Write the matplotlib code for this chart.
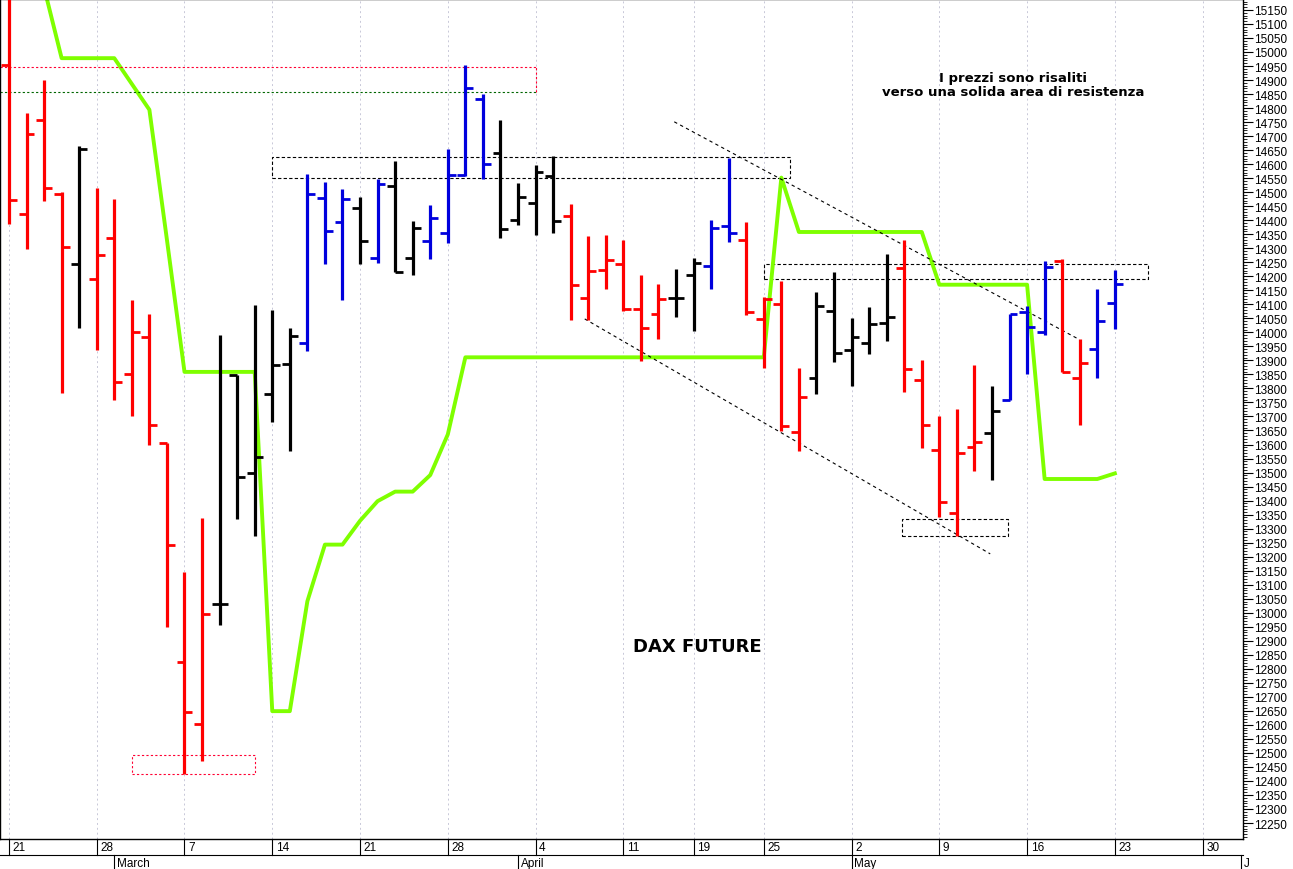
import numpy as np
import matplotlib.pyplot as plt
from matplotlib.transforms import blended_transform_factory

# Daily bars: trading-day index from 21 Feb (Easter holidays skipped)
highs = [15250, 14784, 14899, 14501, 14665, 14516, 14477, 14117, 14065, 13606,
         13146, 13338, 13992, 13847, 14097, 14081, 14014, 14564, 14536, 14512,
         14483, 14546, 14611, 14398, 14453, 14655, 14952, 14849, 14758, 14532,
         14596, 14629, 14457, 14342, 14348, 14328, 14204, 14174, 14225, 14265,
         14402, 14621, 14394, 14126, 14184, 13873, 14144, 14214, 14051, 14091,
         14279, 14328, 13903, 13701, 13728, 13883, 13810, 14065, 14095, 14255,
         14263, 13978, 14156, 14223]
lows = [14388, 14299, 14467, 13784, 14017, 13938, 13760, 13701, 13600, 12948,
        12424, 12471, 12956, 13333, 13274, 13681, 13576, 13932, 14243, 14117,
        14243, 14249, 14214, 14204, 14263, 14318, 14556, 14546, 14338, 14382,
        14348, 14354, 14045, 14045, 14156, 14077, 13899, 13978, 14055, 14006,
        14156, 14322, 14061, 13873, 13649, 13576, 13780, 13893, 13810, 13923,
        13968, 13788, 13586, 13342, 13275, 13507, 13473, 13760, 13853, 13992,
        13859, 13671, 13839, 14012]
opens = [14952, 14421, 14758, 14493, 14243, 14190, 14338, 13853, 13982, 13606,
         12824, 12602, 13031, 13847, 13497, 13780, 13887, 13962, 14481, 14394,
         14445, 14267, 14522, 14267, 14326, 14354, 14560, 14833, 14639, 14402,
         14463, 14556, 14414, 14124, 14223, 14243, 14085, 14067, 14124, 14204,
         14235, 14378, 14328, 14047, 14101, 13645, 13837, 14075, 13938, 13962,
         14035, 14229, 13830, 13582, 13354, 13590, 13641, 13760, 14071, 14002,
         14255, 13837, 13942, 14105]
closes = [14473, 14708, 14514, 14305, 14653, 14275, 13823, 14002, 13669, 13240,
          12645, 12996, 13031, 13483, 13554, 13883, 13986, 14493, 14362, 14477,
          14325, 14528, 14214, 14374, 14408, 14560, 14873, 14600, 14368, 14483,
          14572, 14398, 14170, 14219, 14259, 14085, 14016, 14120, 14124, 14249,
          14374, 14354, 14071, 14120, 13665, 13768, 14095, 13927, 13982, 14031,
          14055, 13869, 13671, 13394, 13570, 13610, 13721, 14065, 14018, 14233,
          13859, 13889, 14041, 14174]
colors = (['r'] * 4 + ['k'] + ['r'] * 7 + ['k'] * 5 + ['b'] * 3 + ['k', 'b', 'k', 'k']
          + ['b'] * 4 + ['k'] * 4 + ['r'] * 6 + ['k'] * 2 + ['b'] * 2 + ['r'] * 4
          + ['k'] * 5 + ['r'] * 5 + ['k'] + ['b'] * 3 + ['r'] * 2 + ['b'] * 2)
color_map = {'r': '#ff0000', 'k': '#000000', 'b': '#0000dd'}

# green indicator line
green = [np.nan, 15480, 15230, 14978, 14978, 14978, 14978, 14886, 14794, 14330,
         13859, 13859, 13859, 13859, 13859, 12649, 12649, 13041, 13243, 13243,
         13328, 13398, 13432, 13432, 13491, 13636, 13911] + [13911] * 17 + \
        [14552] + [14358] * 8 + [14170] * 6 + [13477] * 4 + [13497]

day_ticks = [0, 5, 10, 15, 20, 25, 30, 35, 39, 43, 48, 53, 58, 63, 68]
day_labels = ['21', '28', '7', '14', '21', '28', '4', '11', '19', '25', '2', '9', '16', '23', '30']
month_pos = [6, 29, 48, 70.2]
month_labels = ['March', 'April', 'May', 'J']

fig = plt.figure(figsize=(12.93, 8.7), dpi=100)
ax = fig.add_axes([0, 30 / 870, 1243 / 1293, 840 / 870])
ax.set_xlim(-0.51, 70.3)
ax.set_ylim(12193, 15189)

for t in day_ticks:
    ax.axvline(t, color='#c8c8d8', lw=0.7, ls=(0, (2, 3)), zorder=0)

x = np.arange(len(highs))
cols = [color_map[c] for c in colors]
ax.vlines(x, lows, highs, colors=cols, lw=2.3, zorder=3)
ax.hlines(opens, x - 0.45, x, colors=cols, lw=2.0, zorder=3)
ax.hlines(closes, x, x + 0.45, colors=cols, lw=2.0, zorder=3)

ax.plot(np.arange(len(green)), green, color='#7fff00', lw=2.8, zorder=2)

# dashed boxes and trend lines
ax.plot([-0.5, 30], [14947, 14947], color='#ff0033', lw=0.8, ls=(0, (2, 2)))
ax.plot([-0.5, 30], [14857, 14857], color='#006600', lw=0.8, ls=(0, (2, 2)))
ax.plot([30, 30], [14857, 14947], color='#ff0033', lw=0.8, ls=(0, (2, 2)))
ax.add_patch(plt.Rectangle((7, 12424), 7, 67, fill=False, ec='#ff0033', lw=0.8, ls=(0, (2, 2))))
ax.add_patch(plt.Rectangle((15, 14552), 29.5, 73, fill=False, ec='k', lw=0.8, ls=(0, (3, 2))))
ax.add_patch(plt.Rectangle((43, 14190), 21.9, 55, fill=False, ec='k', lw=0.8, ls=(0, (3, 2))))
ax.add_patch(plt.Rectangle((50.9, 13275), 6, 58, fill=False, ec='k', lw=0.8, ls=(0, (3, 2))))
ax.plot([37.9, 60.9], [14751, 13977], color='k', lw=0.8, ls=(0, (3, 3)))
ax.plot([32.8, 55.9], [14048, 13210], color='k', lw=0.8, ls=(0, (3, 3)))

ax.text(57.2, 14885, 'I prezzi sono risaliti\nverso una solida area di resistenza',
        ha='center', va='center', fontsize=9.5, fontweight='bold', family='DejaVu Sans',
        linespacing=1.1)
ax.text(39.2, 12880, 'DAX FUTURE', ha='center', va='center', fontsize=13,
        fontweight='bold', family='DejaVu Sans')

# right price axis
ax.yaxis.tick_right()
ax.set_yticks(np.arange(12250, 15151, 50))
ax.set_yticks(np.arange(12200, 15190, 10), minor=True)
ax.tick_params(axis='y', which='major', length=7, labelsize=8.5, pad=1)
ax.tick_params(axis='y', which='minor', length=3)
ax.set_xticks([])
for lab in ax.get_yticklabels():
    lab.set_family('Liberation Sans')

# date rows under the chart
tr = blended_transform_factory(ax.transData, ax.transAxes)
for t, s in zip(day_ticks, day_labels):
    ax.plot([t, t], [0, -16 / 840], color='k', lw=0.8, transform=tr, clip_on=False)
    ax.text(t + 0.2, -8 / 840, s, transform=tr, ha='left', va='center', fontsize=8.5,
            family='Liberation Sans')
for t, s in zip(month_pos, month_labels):
    ax.plot([t, t], [-16 / 840, -30 / 840], color='k', lw=0.8, transform=tr, clip_on=False)
    ax.text(t + 0.15, -24 / 840, s, transform=tr, ha='left', va='center', fontsize=8.5,
            family='Liberation Sans')
ax.plot([-0.51, 70.3], [-16 / 840, -16 / 840], color='k', lw=0.8, transform=tr, clip_on=False)
for sp in ax.spines.values():
    sp.set_linewidth(1.0)

fig.savefig('out.png', dpi=100)
